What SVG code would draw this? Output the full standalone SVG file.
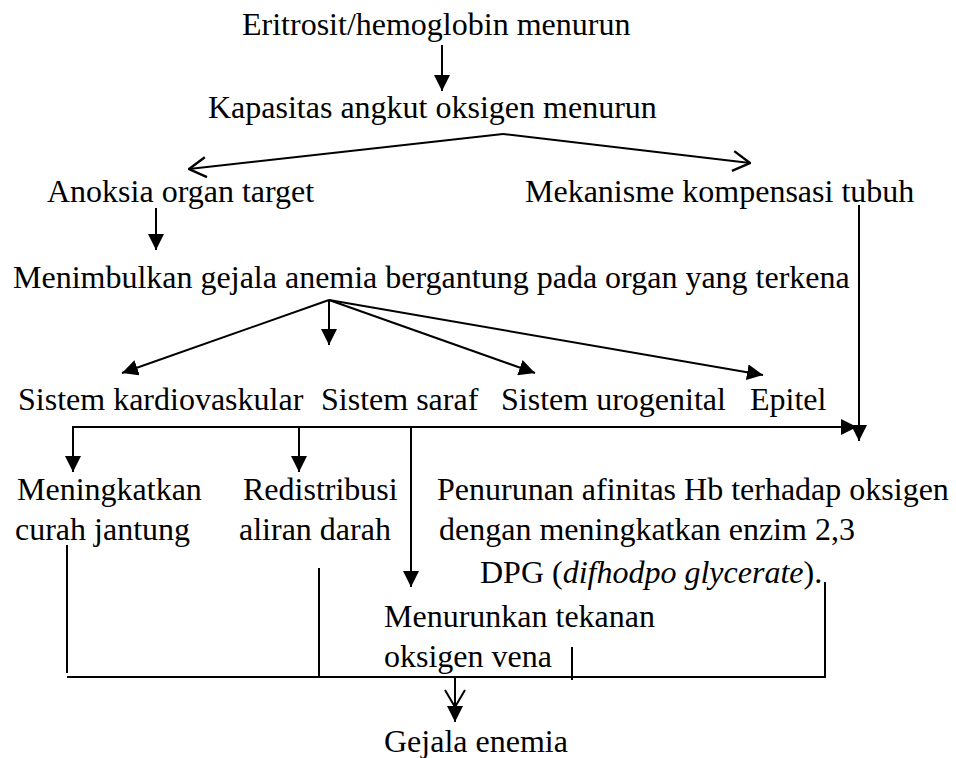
<svg xmlns="http://www.w3.org/2000/svg" width="956" height="758" viewBox="0 0 956 758" font-family="'Liberation Serif', 'Times New Roman', serif">
<defs>
<style>
text{font-family:'Liberation Serif','Times New Roman',Times,serif;font-size:32px;fill:#000}
.c{stroke:#000;stroke-width:2;fill:none}
.fa{marker-end:url(#fill)}
.oa{marker-end:url(#open)}
</style>
<marker id="fill" viewBox="0 0 16 16" refX="16" refY="8" markerWidth="16" markerHeight="16" markerUnits="userSpaceOnUse" orient="auto">
<path d="M0,0 L16,8 L0,16 z" fill="#000"/>
</marker>
<marker id="open" viewBox="0 0 20 24" refX="19" refY="12" markerWidth="20" markerHeight="24" markerUnits="userSpaceOnUse" orient="auto">
<path d="M2,2 L19,12 L2,22" fill="none" stroke="#000" stroke-width="2.4"/>
</marker>
</defs>
<rect width="956" height="758" fill="#fff"/>
<g id="n1"><text x="242" y="35">Eritrosit/hemoglobin menurun</text></g>
<g id="n2"><text x="208" y="118">Kapasitas angkut oksigen menurun</text></g>
<g id="n3"><text x="47" y="202">Anoksia organ target</text></g>
<g id="n4"><text x="525" y="202">Mekanisme kompensasi tubuh</text></g>
<g id="n5"><text x="13" y="288">Menimbulkan gejala anemia bergantung pada organ yang terkena</text></g>
<g id="n6"><text x="18" y="410">Sistem kardiovaskular</text></g>
<g id="n7"><text x="321" y="410">Sistem saraf</text></g>
<g id="n8"><text x="501" y="410">Sistem urogenital</text></g>
<g id="n9"><text x="750" y="410">Epitel</text></g>
<g id="n10"><text x="17" y="500">Meningkatkan</text><text x="15" y="540">curah jantung</text></g>
<g id="n11"><text x="243" y="500">Redistribusi</text><text x="239" y="540">aliran darah</text></g>
<g id="n12"><text x="437" y="500">Penurunan afinitas Hb terhadap oksigen</text><text x="439" y="540">dengan meningkatkan enzim 2,3</text><text x="480" y="583">DPG (<tspan font-style="italic">difhodpo glycerate</tspan>).</text></g>
<g id="n13"><text x="384" y="627">Menurunkan tekanan</text><text x="384" y="667">oksigen vena</text></g>
<g id="n14"><text x="384" y="752">Gejala enemia</text></g>
<g id="connectors">
<line class="c fa" x1="442" y1="45" x2="442" y2="91"/>
<polyline class="c oa" points="503,134 189,169"/>
<polyline class="c oa" points="503,134 750,163"/>
<line class="c fa" x1="156" y1="208" x2="156" y2="250"/>
<line class="c fa" x1="329" y1="300" x2="122" y2="373"/>
<line class="c fa" x1="329" y1="300" x2="329" y2="345"/>
<line class="c fa" x1="329" y1="300" x2="535" y2="373"/>
<line class="c fa" x1="329" y1="300" x2="763" y2="375"/>
<line class="c fa" x1="859" y1="205" x2="859" y2="441"/>
<line class="c fa" x1="73" y1="427" x2="857" y2="427"/>
<line class="c fa" x1="73" y1="426" x2="73" y2="472"/>
<line class="c fa" x1="299" y1="427" x2="299" y2="472"/>
<line class="c fa" x1="411" y1="427" x2="411" y2="587"/>
<line class="c" x1="67" y1="545" x2="67" y2="673"/>
<line class="c" x1="319" y1="568" x2="319" y2="677"/>
<line class="c" x1="572" y1="647" x2="572" y2="680"/>
<polyline class="c" points="825,582 825,677 67,677"/>
<line class="c fa" x1="455" y1="677" x2="455" y2="722"/>
<polyline class="c" points="445,690 455,707 465,690"/>
</g>
</svg>
